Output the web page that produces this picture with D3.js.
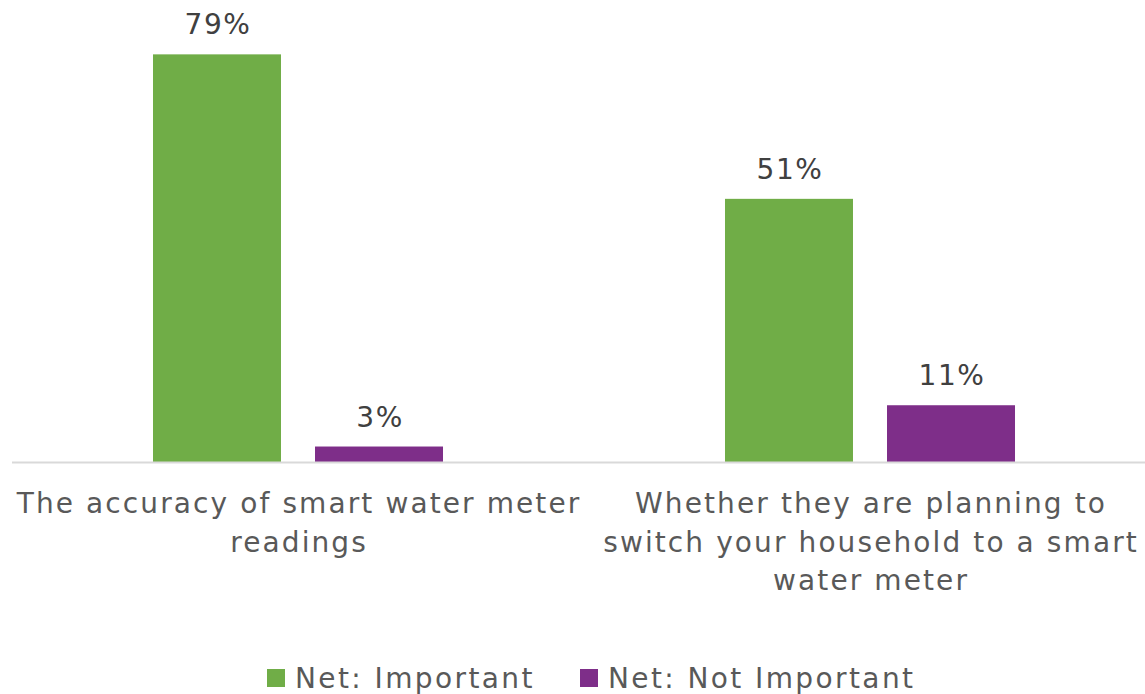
<!DOCTYPE html>
<html>
<head>
<meta charset="utf-8">
<script src="https://cdn.jsdelivr.net/npm/d3@7"></script>
<style>
  html, body { margin: 0; padding: 0; background: #ffffff; }
  svg { display: block; }
  text { font-family: "DejaVu Sans", "Noto Sans", sans-serif; }
</style>
</head>
<body>
<div id="chart"></div>
<script>
// Survey items (each label is split into its display lines)
const categories = [
  "The accuracy of smart water meter readings",
  "Whether they are planning to switch your household to a smart water meter"
];
const categoryLines = [
  ["The accuracy of smart water meter", "readings"],
  ["Whether they are planning to", "switch your household to a smart", "water meter"]
];
const seriesNames = ["Net: Important", "Net: Not Important"];
const importantValues = [79, 51];
const notImportantValues = [3, 11];
const seriesColors = ["#70AD47", "#7E2E89"];

const width = 1145, height = 694;
const baseline = 462;
const fontSize = 28;
const spacing = 2.1;

const svg = d3.select("#chart").append("svg")
  .attr("width", width)
  .attr("height", height);

// Group scale across the categories, inner scale for the two series
const x0 = d3.scaleBand()
  .domain(categories)
  .range([12, 1156])
  .paddingInner(0.493)
  .paddingOuter(0.2465);

const x1 = d3.scaleBand()
  .domain(seriesNames)
  .range([0, x0.bandwidth()])
  .paddingInner(0.21);

const y = d3.scaleLinear()
  .domain([0, 80])
  .range([baseline, baseline - 80 * 5.16]);

const rows = categories.map((c, i) => ({
  category: c,
  values: [
    { series: seriesNames[0], value: importantValues[i], color: seriesColors[0] },
    { series: seriesNames[1], value: notImportantValues[i], color: seriesColors[1] }
  ]
}));

const groups = svg.selectAll("g.group")
  .data(rows)
  .join("g")
  .attr("class", "group")
  .attr("transform", d => `translate(${x0(d.category)},0)`);

groups.selectAll("rect")
  .data(d => d.values)
  .join("rect")
  .attr("x", d => x1(d.series))
  .attr("y", d => y(d.value))
  .attr("width", x1.bandwidth())
  .attr("height", d => y(0) - y(d.value))
  .attr("fill", d => d.color);

// Value labels above each bar
groups.selectAll("text.value")
  .data(d => d.values)
  .join("text")
  .attr("class", "value")
  .attr("x", d => x1(d.series) + x1.bandwidth() / 2 + spacing / 2)
  .attr("y", d => y(d.value) - 20)
  .attr("text-anchor", "middle")
  .attr("font-size", fontSize)
  .attr("letter-spacing", 1.6)
  .attr("fill", "#404040")
  .text(d => d.value + "%");

// Category axis baseline
svg.append("line")
  .attr("x1", x0.range()[0])
  .attr("x2", x0.range()[1])
  .attr("y1", baseline + 0.5)
  .attr("y2", baseline + 0.5)
  .attr("stroke", "#d9d9d9")
  .attr("stroke-width", 2);

// Category labels, centred under each group
const labels = svg.selectAll("text.cat")
  .data(categories)
  .join("text")
  .attr("class", "cat")
  .attr("text-anchor", "middle")
  .attr("font-size", fontSize)
  .attr("letter-spacing", spacing)
  .attr("fill", "#595959");

labels.selectAll("tspan")
  .data((d, i) => categoryLines[i].map(line => ({ line, cx: x0(d) + x0.bandwidth() / 2 + spacing / 2 })))
  .join("tspan")
  .attr("x", d => d.cx)
  .attr("y", (d, j) => 513 + j * 38.5)
  .text(d => d.line);

// Legend
const legendX = [267, 580];
const legend = svg.selectAll("g.legend")
  .data(seriesNames)
  .join("g")
  .attr("class", "legend")
  .attr("transform", (d, i) => `translate(${legendX[i]},669)`);

legend.append("rect")
  .attr("width", 18)
  .attr("height", 18)
  .attr("fill", (d, i) => seriesColors[i]);

legend.append("text")
  .attr("x", 28)
  .attr("y", 19)
  .attr("font-size", fontSize)
  .attr("letter-spacing", 2.4)
  .attr("fill", "#595959")
  .text(d => d);
</script>
</body>
</html>
